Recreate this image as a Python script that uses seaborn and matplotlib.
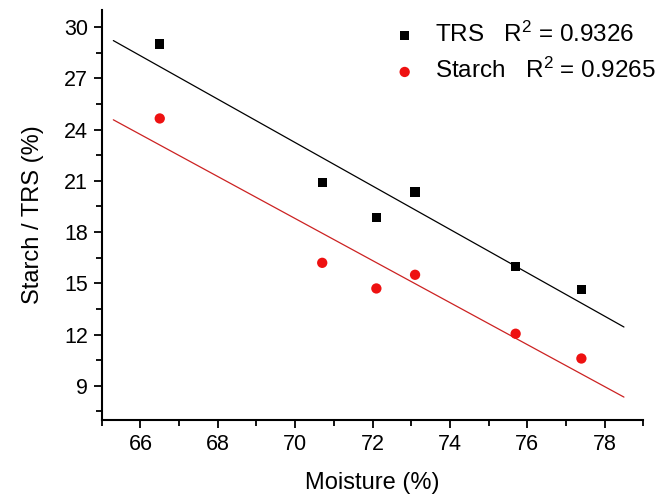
import numpy as np
import pandas as pd
import matplotlib
matplotlib.use('Agg')
import matplotlib.pyplot as plt
from matplotlib.ticker import MultipleLocator
import seaborn as sns

# data
moisture = [66.5, 70.7, 72.1, 73.1, 75.7, 77.4]
trs = [29.0, 20.9, 18.85, 20.35, 16.0, 14.65]
starch = [24.65, 16.2, 14.7, 15.5, 12.05, 10.6]
r2_trs = 0.9326
r2_starch = 0.9265

sns.set_style('ticks')
plt.rcParams['font.family'] = ['Liberation Sans', 'DejaVu Sans']
plt.rcParams['mathtext.default'] = 'regular'
plt.rcParams['text.color'] = 'black'
plt.rcParams['axes.labelcolor'] = 'black'

df = pd.DataFrame({'Moisture': moisture, 'TRS': trs, 'Starch': starch})

fig, ax = plt.subplots(figsize=(6.71, 4.98), dpi=100)
fig.subplots_adjust(left=0.1516, right=0.9587, top=0.980, bottom=0.1566)

sns.scatterplot(data=df, x='Moisture', y='TRS', marker='s', s=45, color='black',
                edgecolor='none', ax=ax, label='TRS   R$^2$ = %.4f' % r2_trs, zorder=3)
sns.scatterplot(data=df, x='Moisture', y='Starch', marker='o', s=55, color='#ee1111',
                edgecolor='none', ax=ax, label='Starch   R$^2$ = %.4f' % r2_starch, zorder=3)

# linear fits
xfit = np.linspace(65.3, 78.5, 50)
for col, c in [('TRS', 'black'), ('Starch', '#cc2222')]:
    k, b = np.polyfit(df['Moisture'], df[col], 1)
    ax.plot(xfit, k * xfit + b, color=c, lw=0.9, zorder=2)

ax.set_xlim(65, 79)
ax.set_ylim(7, 31)
ax.xaxis.set_major_locator(MultipleLocator(2))
ax.xaxis.set_minor_locator(MultipleLocator(1))
ax.yaxis.set_minor_locator(MultipleLocator(1.5))
ax.set_yticks(np.arange(9, 31, 3))

ax.tick_params(which='major', length=6, width=1.3, labelsize=15.5, colors='black', pad=4)
ax.tick_params(which='minor', length=4, width=1.3, colors='black')
for side in ['left', 'bottom']:
    ax.spines[side].set_linewidth(1.5)
    ax.spines[side].set_color('black')
sns.despine(ax=ax)

ax.set_xlabel('Moisture (%)', fontsize=17, labelpad=12)
ax.set_ylabel('Starch / TRS (%)', fontsize=17, labelpad=14)

ax.legend(loc='upper right', bbox_to_anchor=(656 / 671, 1 - 22 / 498),
          bbox_transform=fig.transFigure, frameon=False, fontsize=17.5,
          handlelength=1.0, handletextpad=0.75, labelspacing=0.45,
          borderpad=0, borderaxespad=0)

plt.savefig('out.png', dpi=100)
